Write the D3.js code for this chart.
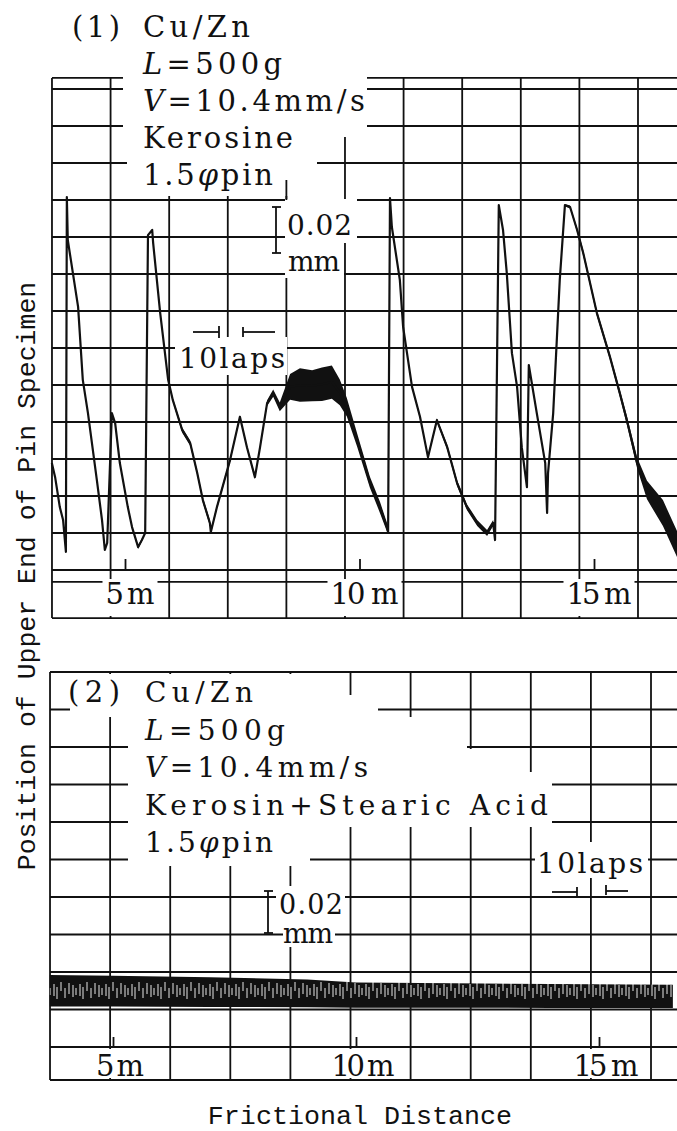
<!DOCTYPE html>
<html><head><meta charset="utf-8">
<script src="https://cdn.jsdelivr.net/npm/d3@7"></script>
<style>
html,body{margin:0;padding:0;background:#fff;}
svg{display:block;}
</style></head><body>
<svg id="chart" width="677" height="1131"></svg>
<script>
// ================= DATA =================
// Panel (1): Kerosine — trace
// distance in metres, position in chart-paper divisions, noise = half-width of the noisy band (divisions)
const dist1 = [3.44,3.51,3.61,3.68,3.74,3.76,3.78,4.00,4.10,4.21,4.40,4.51,4.57,4.62,4.72,4.79,4.89,5.06,5.15,5.28,
  5.36,5.43,5.49,5.58,5.60,5.75,5.92,6.02,6.22,6.39,6.54,6.66,6.81,6.83,6.96,7.24,7.45,7.60,7.77,7.88,
  8.03,8.16,8.30,8.52,8.73,8.99,9.20,9.41,9.58,9.73,9.95,10.22,10.44,10.59,10.61,10.65,10.69,10.86,10.93,11.12,
  11.29,11.46,11.65,11.87,12.08,12.29,12.51,12.72,12.85,12.89,12.97,13.06,13.14,13.25,13.36,13.46,13.57,13.61,13.78,13.96,
  14.00,14.02,14.13,14.27,14.38,14.49,14.64,14.77,15.06,15.34,15.55,15.70,15.92,16.13,16.47,16.77];
const pos1 = [2.89,2.51,1.70,1.35,0.49,10.08,8.92,7.11,5.14,4.24,2.43,1.35,0.54,0.73,4.24,3.97,2.89,1.70,1.16,0.62,
  0.81,1.00,9.05,9.19,8.84,6.95,5.14,4.59,3.78,3.43,2.62,1.89,1.27,1.03,1.70,2.97,4.14,3.32,2.51,3.32,
  4.51,4.78,4.41,4.95,5.00,4.98,5.02,5.08,4.80,4.40,3.51,2.38,1.68,1.14,1.03,10.05,9.27,7.84,6.57,4.95,
  4.14,3.05,4.05,3.32,2.35,1.70,1.27,1.00,1.27,0.81,9.86,9.19,8.03,5.86,4.95,3.32,2.24,5.54,4.24,2.89,
  1.54,2.62,4.24,7.84,9.86,9.81,9.19,8.57,6.95,5.76,4.78,4.05,2.89,2.16,1.54,0.70];
const noise1 = [0,0,0,0,0,0,0,0,0,0,0,0,0,0,0,0,0.03,0.04,0.04,0.05,
  0.04,0,0,0,0,0,0.03,0.05,0.07,0.07,0.06,0.07,0.08,0.05,0.06,0.06,0.04,0.05,0.05,0.05,
  0.08,0.10,0.12,0.35,0.45,0.42,0.45,0.45,0.35,0.25,0.18,0.15,0.15,0.12,0,0,0,0,0,0.04,
  0.05,0.04,0.05,0.07,0.08,0.08,0.08,0.08,0.08,0,0,0,0,0,0,0,0,0,0,0,
  0,0,0,0,0.03,0.04,0.06,0.08,0.08,0.08,0.10,0.12,0.15,0.25,0.35,0.35];

// Panel (2): Kerosin + Stearic Acid — envelope of the fine oscillating band
const dist2 = [3.70,5.0,7.0,9.0,10.0,12.0,14.0,16.52];
const hi2   = [1.92,1.90,1.86,1.80,1.72,1.70,1.68,1.66];
const lo2   = [1.08,1.08,1.07,1.06,1.05,1.05,1.04,1.04];

const tickValues = [5, 10, 15];
const tickLabels = ["5 m", "10 m", "15 m"];
const panelTags = ["(1)", "(2)"];
const conditions1 = ["Cu/Zn", "L=500g", "V=10.4mm/s", "Kerosine", "1.5φpin"];
const conditions2 = ["Cu/Zn", "L=500g", "V=10.4mm/s", "Kerosin+Stearic Acid", "1.5φpin"];
const scaleBarText = ["0.02", "mm"];
const lapsText = "10laps";
const yLabel = "Position of Upper End of Pin Specimen";
const xLabel = "Frictional Distance";

// ================= DRAWING =================
const W = 677, H = 1131;
const INK = "#111";
const SERIF = "'DejaVu Serif','Liberation Serif',serif";
const MONO = "'Liberation Mono','Courier New',monospace";
const FS = 29;
const svg = d3.select("#chart");

const x1 = d3.scaleLinear().domain([5, 15]).range([125, 594]);
const y1 = d3.scaleLinear().domain([0, 13]).range([570, 89]);
const x2 = d3.scaleLinear().domain([5, 15]).range([113, 599]);
const y2 = d3.scaleLinear().domain([0, 10]).range([1047, 672]);

// pattern for panel-2 band texture
const defs = svg.append("defs");
const pat = defs.append("pattern").attr("id", "hatch").attr("patternUnits", "userSpaceOnUse")
  .attr("x", 0).attr("y", 972).attr("width", 26).attr("height", 40);
pat.append("rect").attr("width", 26).attr("height", 40).attr("fill", INK);
[[2,12,24],[5,15,27],[9,10,19],[13,16,26],[17,11,22],[21,13,25],[24,16,23]].forEach(s =>
  pat.append("line").attr("x1", s[0]).attr("x2", s[0]).attr("y1", s[1]).attr("y2", s[2])
    .attr("stroke", "#fff").attr("stroke-width", 0.9));

function gridLine(g, xa, ya, xb, yb) {
  g.append("line").attr("x1", xa).attr("y1", ya).attr("x2", xb).attr("y2", yb)
    .attr("stroke", INK).attr("stroke-width", 1.8);
}
function mask(g, r) {
  g.append("rect").attr("x", r[0]).attr("y", r[1]).attr("width", r[2]-r[0]).attr("height", r[3]-r[1]).attr("fill", "#fff");
}
function serifText(g, str, x, y, len, size, anchor) {
  const t = g.append("text").attr("x", x).attr("y", y)
    .attr("font-family", SERIF).attr("font-size", size).attr("fill", INK)
    .attr("text-anchor", anchor || "start")
    .attr("textLength", len).attr("lengthAdjust", "spacing");
  str.split(/([LVφ])/).filter(s => s.length).forEach(s => {
    const sp = t.append("tspan").text(s);
    if (/^[LVφ]$/.test(s)) sp.attr("font-style", "italic");
  });
  return t;
}

// ---------- Panel 1 ----------
const p1 = svg.append("g");
const gridV1 = d3.range(0, 12).map(k => 3.443 + 1.2495 * k);
const gridH1 = d3.range(0, 14).concat([13.3, -0.32, -1.3]);
gridV1.forEach(m => gridLine(p1, x1(m), y1(13.3), x1(m), y1(-1.3)));
gridH1.forEach(d => gridLine(p1, x1(gridV1[0]), y1(d), W + 20, y1(d)));

const ax1 = p1.append("g").attr("transform", `translate(0,${y1(0)})`)
  .call(d3.axisBottom(x1).tickValues(tickValues).tickSize(-10).tickFormat(() => ""));
ax1.select(".domain").remove();
ax1.selectAll(".tick line").attr("stroke", INK).attr("stroke-width", 1.8).attr("transform", "translate(0,-1)");

// masks where labels were pasted over the chart paper
[[123,75,367,127],[127,110,357,137],[127,130,317,196],[285,199,357,243],[285,243,344,278],[175,337,287,375]]
  .forEach(r => mask(p1, r));
gridLine(p1, x1(gridV1[4]), 180, x1(gridV1[4]), y1(10));

const lab1Len = [49, 68, 65];
tickValues.forEach((v, i) => {
  const cx = x1(v) + 5;
  mask(p1, [cx - lab1Len[i]/2 - 3, 579, cx + lab1Len[i]/2 + 3, 616]);
  serifText(p1, tickLabels[i], cx, y1(-0.92), lab1Len[i], FS, "middle");
});

// trace panel 1
const data1 = dist1.map((m, i) => ({m, p: pos1[i], n: noise1[i]}));
p1.append("path").datum(data1)
  .attr("d", d3.area().x(d => x1(d.m)).y0(d => y1(d.p - d.n)).y1(d => y1(d.p + d.n)))
  .attr("fill", INK);
p1.append("path").datum(data1)
  .attr("d", d3.line().x(d => x1(d.m)).y(d => y1(d.p)))
  .attr("fill", "none").attr("stroke", INK).attr("stroke-width", 2.2).attr("stroke-linejoin", "round");

// texts panel 1
serifText(p1, panelTags[0], 72, y1(14.4), 48, FS);
const cond1Len = [107, 139, 222, 150, 130];
conditions1.forEach((s, i) => serifText(p1, s, 143, y1(14.4 - i), cond1Len[i], FS));
gridLine(p1, 276, 207, 276, 253); gridLine(p1, 272, 207, 281, 207); gridLine(p1, 272, 253, 281, 253);
serifText(p1, scaleBarText[0], 287, 235, 65, 28);
serifText(p1, scaleBarText[1], 288, 271, 52, 28);
gridLine(p1, 193, 332, 219, 332); gridLine(p1, 219, 326, 219, 338);
gridLine(p1, 243, 332, 275, 332); gridLine(p1, 243, 327, 243, 337);
serifText(p1, lapsText, 179, 368, 106, 28);

// ---------- Panel 2 ----------
const p2 = svg.append("g");
const gridV2 = d3.range(0, 11).map(k => 3.704 + 1.2366 * k);
const gridH2 = d3.range(0, 11).concat([-0.88]);
gridV2.forEach(m => gridLine(p2, x2(m), y2(10), x2(m), y2(-0.88)));
gridH2.forEach(d => gridLine(p2, x2(gridV2[0]), y2(d), W + 20, y2(d)));

const ax2 = p2.append("g").attr("transform", `translate(0,${y2(0)})`)
  .call(d3.axisBottom(x2).tickValues(tickValues).tickSize(-10).tickFormat(() => ""));
ax2.select(".domain").remove();
ax2.selectAll(".tick line").attr("stroke", INK).attr("stroke-width", 1.8);

[[70,674,346,717],[344,695,378,720],[128,717,467,827],[467,749,528,827],[528,772,552,827],
 [128,820,310,866],[535,842,648,878],[276,886,345,918],[283,918,335,947]].forEach(r => mask(p2, r));

const lab2Len = [48, 63, 65];
tickValues.forEach((v, i) => {
  const cx = x2(v) + 7;
  mask(p2, [cx - lab2Len[i]/2 - 3, 1049, cx + lab2Len[i]/2 + 3, 1078]);
  serifText(p2, tickLabels[i], cx, 1076, lab2Len[i], FS, "middle");
});

// band panel 2
const data2 = dist2.map((m, i) => ({m, hi: hi2[i], lo: lo2[i]}));
p2.append("path").datum(data2)
  .attr("d", d3.area().x(d => x2(d.m)).y0(d => y2(d.lo)).y1(d => y2(d.hi)))
  .attr("fill", "url(#hatch)");

serifText(p2, panelTags[1], 68, y2(9.2), 52, FS);
const cond2Len = [108, 140, 223, 403, 128];
conditions2.forEach((s, i) => serifText(p2, s, 145, y2(9.2 - i), cond2Len[i], 28));
gridLine(p2, 268, 891, 268, 933); gridLine(p2, 264, 891, 273, 891); gridLine(p2, 264, 933, 273, 933);
serifText(p2, scaleBarText[0], 279, 914, 64, 27);
serifText(p2, scaleBarText[1], 283, 943, 50, 27);
gridLine(p2, 552, 892, 577, 892); gridLine(p2, 577, 887, 577, 897);
gridLine(p2, 606, 891, 628, 891); gridLine(p2, 606, 885, 606, 895);
serifText(p2, lapsText, 537, 873, 106, 28);

// ---------- axis titles ----------
svg.append("text").attr("transform", "translate(35,576) rotate(-90)")
  .attr("text-anchor", "middle").attr("font-family", MONO).attr("font-size", 26.5)
  .attr("fill", INK).text(yLabel);
svg.append("text").attr("x", 360).attr("y", 1124)
  .attr("text-anchor", "middle").attr("font-family", MONO).attr("font-size", 26.7)
  .attr("fill", INK).text(xLabel);
</script>
</body></html>
